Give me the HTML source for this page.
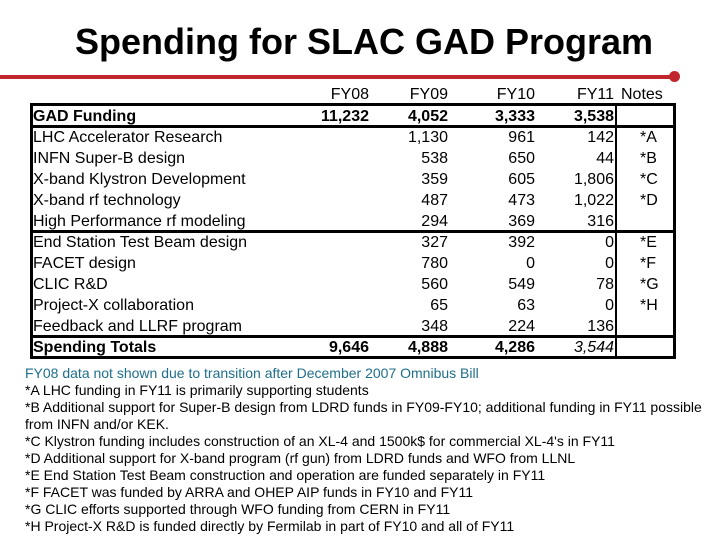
<!DOCTYPE html>
<html><head><meta charset="utf-8"><style>
body{margin:0;width:720px;height:540px;background:#fff;position:relative;overflow:hidden;font-family:"Liberation Sans",Arial,sans-serif}
.t{position:absolute;white-space:nowrap}
.title{left:75px;top:21px;font-size:36px;font-weight:bold;color:#000}
.hline{position:absolute;left:30px;width:645px;background:#000}
.vline{position:absolute;background:#000}
.row{position:absolute;left:30px;width:645px;height:21px;font-size:16px;line-height:21px}
.row span{position:absolute;top:0}
.lab{left:3px}
.c1{right:306px}.c2{right:227px}.c3{right:140px}.c4{right:61px}.n{left:610px;width:40px;text-align:left}
.b{font-weight:bold}
.note{position:absolute;left:25px;font-size:14px;line-height:17px;white-space:nowrap}
</style></head><body>
<div class="t title">Spending for SLAC GAD Program</div>
<div style="position:absolute;left:0;top:75px;width:675px;height:4px;background:#c0272d"></div>
<div style="position:absolute;left:669px;top:71px;width:11px;height:11px;border-radius:50%;background:#c0272d"></div>

<div class="row" style="top:84px">
<span class="c1">FY08</span><span class="c2">FY09</span><span class="c3">FY10</span><span class="c4">FY11</span><span style="left:591px">Notes</span></div>

<div id="tbl"></div>
<div class="hline" style="top:103px;height:3px"></div>
<div class="hline" style="top:125px;height:3px"></div>
<div class="hline" style="top:230px;height:3px"></div>
<div class="hline" style="top:335px;height:3px"></div>
<div class="hline" style="top:356px;height:3px"></div>
<div class="vline" style="left:30px;top:103px;width:3px;height:256px"></div>
<div class="vline" style="left:673px;top:103px;width:3px;height:256px"></div>
<div class="vline" style="left:615px;top:103px;width:2px;height:256px"></div>

<div class="note" style="top:365px;color:#1f6e8c">FY08 data not shown due to transition after December 2007 Omnibus Bill</div>
<div class="note" style="top:382px">*A LHC funding in FY11 is primarily supporting students</div>
<div class="note" style="top:399px">*B Additional support for Super-B design from LDRD funds in FY09-FY10; additional funding in FY11 possible<br>from INFN and/or KEK.</div>
<div class="note" style="top:433px">*C Klystron funding includes construction of an XL-4 and 1500k$ for commercial XL-4's in FY11</div>
<div class="note" style="top:450px">*D Additional support for X-band program (rf gun) from LDRD funds and WFO from LLNL</div>
<div class="note" style="top:467px">*E End Station Test Beam construction and operation are funded separately in FY11</div>
<div class="note" style="top:484px">*F FACET was funded by ARRA and OHEP AIP funds in FY10 and FY11</div>
<div class="note" style="top:501px">*G CLIC efforts supported through WFO funding from CERN in FY11</div>
<div class="note" style="top:518px">*H Project-X R&amp;D is funded directly by Fermilab in part of FY10 and all of FY11</div>

<script>
const labels=["GAD Funding","LHC Accelerator Research","INFN Super-B design","X-band Klystron Development","X-band rf technology","High Performance rf modeling","End Station Test Beam design","FACET design","CLIC R&D","Project-X collaboration","Feedback and LLRF program","Spending Totals"];
const fy08=["11,232","","","","","","","","","","","9,646"];
const fy09=["4,052","1,130","538","359","487","294","327","780","560","65","348","4,888"];
const fy10=["3,333","961","650","605","473","369","392","0","549","63","224","4,286"];
const fy11=["3,538","142","44","1,806","1,022","316","0","0","78","0","136","3,544"];
const notes=["","*A","*B","*C","*D","","*E","*F","*G","*H","",""];
const tbl=document.getElementById('tbl');
labels.forEach((l,i)=>{
  const r=document.createElement('div');
  
  
  r.className='row';
  r.style.top=(106+i*21)+'px';
  const bold=(i==0||i==11);
  const cells=[['lab',l],['c1',fy08[i]],['c2',fy09[i]],['c3',fy10[i]],['c4',fy11[i]],['n',notes[i]]];
  cells.forEach(([c,v],k)=>{
    const s=document.createElement('span');
    
    
    s.className=c+((bold&&!(i==11&&k==4)&&k<5)?' b':'');
    if(i==11&&k==4)s.style.fontStyle='italic';
    s.textContent=v;
    r.appendChild(s);
  });
  tbl.appendChild(r);
});
</script>
</body></html>
